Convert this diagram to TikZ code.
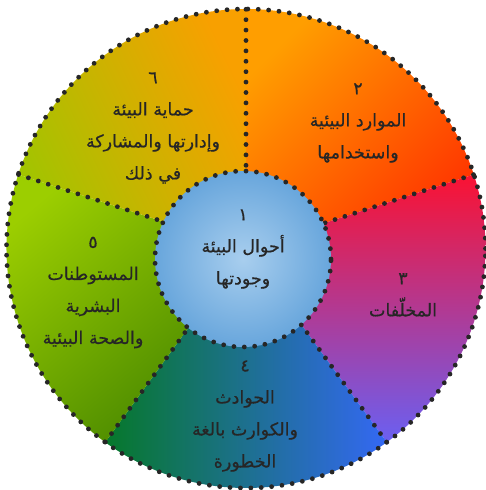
\documentclass[tikz,border=0pt]{standalone}
\usepackage{fontspec}
\TeXXeTstate=1
\newfontfamily\arabicfont[Script=Arabic,FakeBold=0.5]{DejaVu Sans}
\definecolor{txt}{HTML}{262626}
\definecolor{orA}{HTML}{FF9E00}
\definecolor{orB}{HTML}{FF3400}
\definecolor{rdA}{HTML}{FA1232}
\definecolor{rdB}{HTML}{D43898}
\definecolor{rdC}{HTML}{6A60F2}
\definecolor{blA}{HTML}{06782A}
\definecolor{blB}{HTML}{1E7288}
\definecolor{blC}{HTML}{3468F4}
\definecolor{gnA}{HTML}{9CCE00}
\definecolor{gnB}{HTML}{468600}
\definecolor{ygA}{HTML}{A2C400}
\definecolor{ygB}{HTML}{F8A000}
\definecolor{cA}{HTML}{A8CEEE}
\definecolor{cB}{HTML}{68A6DC}
\tikzset{
  dots/.style={line width=4.8pt, dash pattern=on 0pt off 10.4pt, line cap=round, draw=black!85},
  lbl/.style={font=\arabicfont\fontsize{17.5}{32}\selectfont, text=txt, align=center, inner sep=0pt}
}
\begin{document}
\begin{tikzpicture}[x=1pt,y=1pt]
\useasboundingbox (0,0) rectangle (486,490);
\coordinate (O) at (246,241.5);
\coordinate (I) at (243,231);
\def\R{239.5}
\def\r{88}
% sectors
\shade[top color=orA, bottom color=orB, shading angle=45] (O) -- ++(18:\R) arc[start angle=18, end angle=90, radius=\R] -- cycle;
\shade[top color=rdA, middle color=rdB, bottom color=rdC] (O) -- ++(-54:\R) arc[start angle=-54, end angle=18, radius=\R] -- cycle;
\shade[left color=blA, middle color=blB, right color=blC] (O) -- ++(-126:\R) arc[start angle=-126, end angle=-54, radius=\R] -- cycle;
\shade[top color=gnA, bottom color=gnB, shading angle=40] (O) -- ++(162:\R) arc[start angle=162, end angle=234, radius=\R] -- cycle;
\shade[top color=ygA, bottom color=ygB, shading angle=115] (O) -- ++(90:\R) arc[start angle=90, end angle=162, radius=\R] -- cycle;
% radial dotted lines
\foreach \a in {90,18,-54,-126,162} \draw[dots] (O) -- ++(\a:\R);
% inner circle
\shade[inner color=cA, outer color=cB] (I) circle[radius=\r];
\draw[dots] (I) circle[radius=\r];
\draw[dots] (O) circle[radius=\R];
% labels
\node[lbl] (t1) at (243,241) {\beginR ١\endR\\\beginR أحوال البيئة\endR\\\beginR وجودتها\endR};
\node[lbl] (t2) at (358,367) {\beginR ٢\endR\\\beginR الموارد البيئية\endR\\\beginR واستخدامها\endR};
\node[lbl] (t3) at (403,195) {\beginR ٣\endR\\\beginR المخلّفات\endR};
\node[lbl] (t4) at (245,74) {\beginR ٤\endR\\\beginR الحوادث\endR\\\beginR والكوارث بالغة\endR\\\beginR الخطورة\endR};
\node[lbl] (t5) at (93,197.5) {\beginR ٥\endR\\\beginR المستوطنات\endR\\\beginR البشرية\endR\\\beginR والصحة البيئية\endR};
\node[lbl] (t6) at (153,362) {\beginR ٦\endR\\\beginR حماية البيئة\endR\\\beginR وإدارتها والمشاركة\endR\\\beginR في ذلك\endR};
\end{tikzpicture}
\end{document}
